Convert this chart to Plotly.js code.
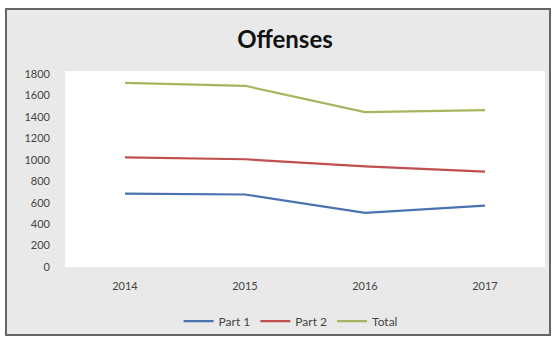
<!DOCTYPE html>
<html><head><meta charset="utf-8">
<script src="https://cdn.plot.ly/plotly-3.0.1.min.js"></script>
<style>html,body{margin:0;padding:0;background:#fff}</style>
</head><body><div id="chart" style="width:554px;height:339px"></div>
<script>
const years = ['2014', '2015', '2016', '2017'];
const part1 = [685, 676, 505, 573];
const part2 = [1023, 1005, 938, 890];
const total = [1718, 1690, 1445, 1463];
const seriesNames = ['Part 1', 'Part 2', 'Total'];
const yTicks = [0, 200, 400, 600, 800, 1000, 1200, 1400, 1600, 1800];

const colors = ['#4A72B0', '#C0504D', '#A3B85E'];
const data = [part1, part2, total].map((v, i) => ({
  type: 'scatter', mode: 'lines', x: years, y: v, name: seriesNames[i],
  line: {color: colors[i], width: 2.2}
}));

const tickFont = {family: 'Lato, sans-serif', size: 11, color: '#444'};
const layout = {
  width: 554, height: 339,
  margin: {l: 65, r: 9, t: 74, b: 72, autoexpand: false},
  paper_bgcolor: '#ffffff',
  plot_bgcolor: 'rgba(0,0,0,0)',
  title: {text: '<b>Offenses</b>', x: 285/554, xanchor: 'center', y: 1 - 40/339, yanchor: 'middle',
    font: {family: 'Lato, "Open Sans", sans-serif', size: 24, color: '#111'}},
  xaxis: {type: 'category', range: [-0.5, 3.5], showgrid: false, zeroline: false, showline: false,
    tickfont: tickFont, ticks: '', ticklabelstandoff: 11},
  yaxis: {range: [0, 1800], tickvals: yTicks, showgrid: false, zeroline: false, showline: false,
    tickfont: tickFont, ticks: '', ticklabelstandoff: 14},
  showlegend: true,
  legend: {orientation: 'h', x: 0.47, xanchor: 'center', y: -0.28, yanchor: 'middle',
    font: {family: 'Lato, sans-serif', size: 12, color: '#444'}, bgcolor: 'rgba(0,0,0,0)'},
  shapes: [
    {type: 'rect', xref: 'paper', yref: 'paper', layer: 'below',
     x0: -59/480, x1: 1 + 5/480, y0: -68/193, y1: 1 + 65/193,
     line: {color: '#666', width: 2}, fillcolor: '#e9e9e9'},
    {type: 'rect', xref: 'paper', yref: 'paper', layer: 'below',
     x0: 0, x1: 1, y0: 0, y1: 1 + 3/193,
     line: {width: 0}, fillcolor: '#ffffff'}
  ]
};
Plotly.newPlot('chart', data, layout, {displayModeBar: false});
</script></body></html>
